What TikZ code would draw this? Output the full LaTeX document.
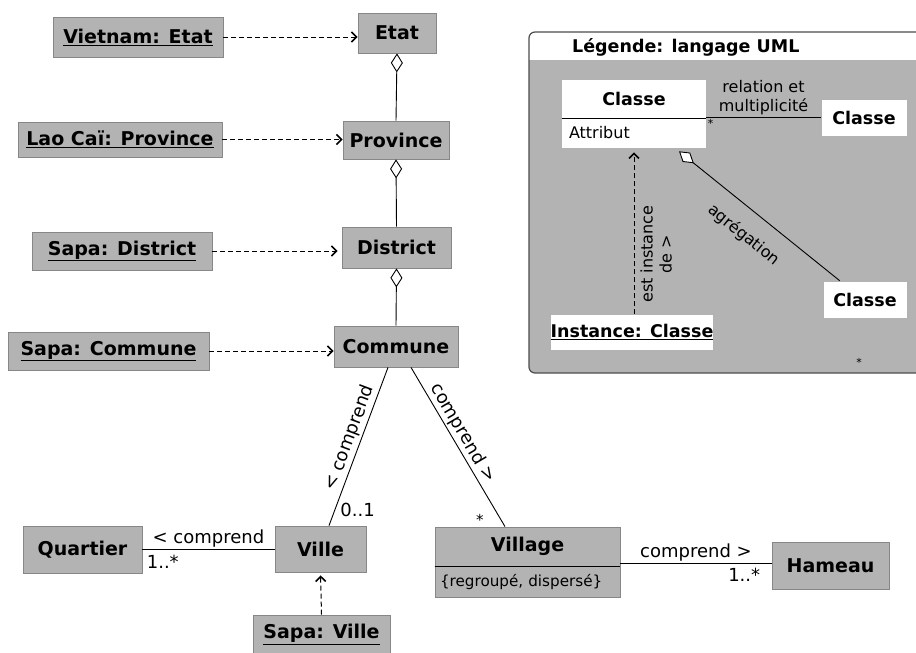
\documentclass[tikz,border=0pt]{standalone}
\usepackage{fontspec}
\setmainfont{DejaVu Sans}
\usetikzlibrary{arrows.meta}
\definecolor{boxgray}{RGB}{179,179,179}
\definecolor{bordgray}{RGB}{135,135,135}

\begin{document}
\begin{tikzpicture}[x=1pt,y=-1pt,
  classe/.style={draw=bordgray,fill=boxgray,inner sep=0,line width=0.8pt,font=\fontsize{19}{22}\selectfont\bfseries},
  lien/.style={line width=0.9pt},
  instof/.style={line width=1pt,dash pattern=on 5pt off 3pt,-{Straight Barb[length=5pt,width=10pt,line width=1.6pt]}},
  agreg/.style={line width=0.9pt,{Diamond[fill=white,length=19pt,width=12pt]}-},
  etiq/.style={font=\fontsize{18}{21}\selectfont,inner sep=2pt},
  mult/.style={font=\fontsize{18}{21}\selectfont,inner sep=1pt},
  legclass/.style={draw=gray!60,fill=white,inner sep=0,line width=0.6pt,font=\fontsize{17.5}{20}\selectfont\bfseries},
  legtxt/.style={font=\fontsize{16}{19}\selectfont,inner sep=2pt}]
\useasboundingbox (0,0) rectangle (916,653);

\node[classe,minimum width=78,minimum height=40] (etat) at (397,33) {Etat};
\node[classe,minimum width=106,minimum height=38] (province) at (396,140) {Province};
\node[classe,minimum width=109,minimum height=41] (district) at (396.5,247.5) {District};
\node[classe,minimum width=124,minimum height=41] (commune) at (396,346.5) {Commune};
\node[classe,minimum width=170,minimum height=40] (vietnam) at (138,37) {\underline{Vietnam: Etat}};
\node[classe,minimum width=204,minimum height=35] (laocai) at (120,139.5) {\underline{Lao Caï: Province}};
\node[classe,minimum width=180,minimum height=38] (sapadistrict) at (122,251) {\underline{Sapa: District}};
\node[classe,minimum width=201,minimum height=38] (sapacommune) at (108.5,351) {\underline{Sapa: Commune}};
\node[classe,minimum width=119,minimum height=47] (quartier) at (82.5,549.5) {Quartier};
\node[classe,minimum width=91,minimum height=46] (ville) at (320.5,549) {Ville};
\node[classe,minimum width=137,minimum height=39] (sapaville) at (321.5,634.5) {\underline{Sapa: Ville}};
\node[classe,minimum width=185,minimum height=39] (village) at (527.5,546.5) {Village};
\node[classe,minimum width=185,minimum height=31,text width=175pt,align=left,font=\fontsize{15.2}{18}\selectfont] (villageattr) at (527.5,581.5) {\{regroupé, dispersé\}};
\node[classe,minimum width=117,minimum height=47] (hameau) at (830.5,565.5) {Hameau};
\draw[line width=0.9pt] (village.south west) -- (village.south east);

\draw[instof] (vietnam.east) -- (vietnam.east -| etat.west);
\draw[instof] (laocai.east) -- (laocai.east -| province.west);
\draw[instof,shorten >=4pt] (sapadistrict.east) -- (sapadistrict.east -| district.west);
\draw[instof] (sapacommune.east) -- (sapacommune.east -| commune.west);
\draw[instof,shorten >=3pt] (sapaville.north) -- (ville.south);

\draw[agreg] (etat.south) -- (province.north);
\draw[agreg] (province.south) -- (district.north);
\draw[agreg] (district.south) -- (commune.north);

\draw[lien] ([xshift=-8pt]commune.south) -- ([xshift=8.5pt]ville.north)
  node[etiq,pos=0.47,sloped,above] (lcv) {< comprend}
  node[mult,pos=1,anchor=south west,xshift=10pt,yshift=7pt] (m01) {0..1};
\draw[lien] ([xshift=15pt]commune.south) -- ([xshift=-22.5pt]village.north)
  node[etiq,pos=0.45,sloped,above] (lcvg) {comprend >}
  node[mult,pos=1,anchor=south east,xshift=-20pt,font=\fontsize{15}{18}\selectfont] (metoile) {*};
\draw[lien] (quartier.east) -- (quartier.east -| ville.west)
  node[etiq,midway,above] (lqv) {< comprend}
  node[mult,pos=0,anchor=north west,xshift=3pt,yshift=-4pt] (m1n) {1..*};
\draw[lien] ([yshift=2pt]hameau.west -| village.east) -- ([yshift=2pt]hameau.west)
  node[etiq,midway,above] (lvh) {comprend >}
  node[mult,pos=1,anchor=north east,xshift=-10pt,yshift=-3pt] (m1nh) {1..*};

% legende
\begin{scope}
\clip[rounded corners=6pt] (529,32) rectangle (930,373);
\fill[boxgray] (529,32) rectangle (930,373);
\fill[white] (529,32) rectangle (930,60);
\end{scope}
\draw[line width=1.2pt,draw=black!70,rounded corners=6pt] (529,32) rectangle (930,373);
\node[anchor=west,inner sep=0,font=\fontsize{17.5}{20}\selectfont\bfseries] (legtitre) at (572,47) {Légende: langage UML};

\node[legclass,draw=none,minimum width=144,minimum height=38] (legclasse) at (634,99) {Classe};
\node[legclass,draw=none,minimum width=144,minimum height=30,text width=130pt,align=left,font=\fontsize{16}{19}\selectfont] (legattr) at (634,133) {Attribut};
\draw[line width=0.9pt] (legclasse.south west) -- (legclasse.south east);
\node[legclass,minimum width=86,minimum height=37] (legdroite) at (864,117.5) {Classe};
\node[legclass,minimum width=84,minimum height=37] (legbas) at (865,299.5) {Classe};
\node[legclass,minimum width=162,minimum height=36] (leginstance) at (632,332) {\underline{Instance: Classe}};

\draw[lien] (legdroite.west -| legclasse.east) -- (legdroite.west)
  node[legtxt,midway,above,align=center,font=\fontsize{16}{19}\selectfont] (lrel) {relation et\\multiplicité}
  node[pos=0,anchor=north west,inner sep=1pt,font=\fontsize{11}{12}\selectfont] (letoile) {*};
\draw[agreg] ([xshift=45pt,yshift=-3pt]legattr.south) -- ([xshift=17pt]legbas.north west)
  node[legtxt,pos=0.5,sloped,below=14pt] (lagreg) {agrégation};
\draw[instof,shorten >=4pt] (leginstance.north -| legattr.south) -- (legattr.south)
  node[legtxt,pos=0.36,sloped,below=4pt,align=center] (linst) {est instance\\de >};
\node[inner sep=0,font=\fontsize{11}{12}\selectfont] (letoilebas) at (859,362) {*};
\end{tikzpicture}
\end{document}
